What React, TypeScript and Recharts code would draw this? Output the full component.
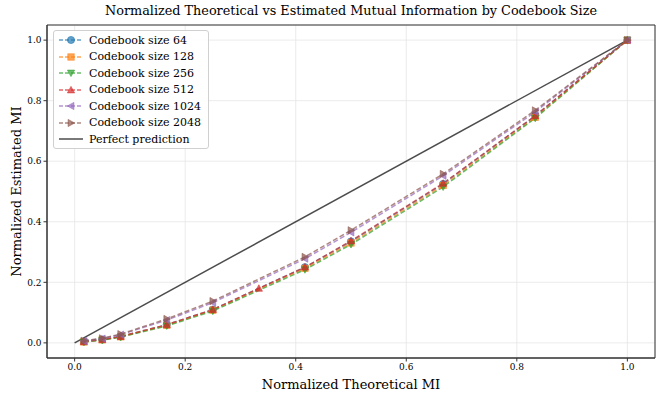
import React from 'react';
import {
  LineChart,
  Line,
  XAxis,
  YAxis,
  CartesianGrid,
  ReferenceArea
} from 'recharts';

const FONT = '"DejaVu Serif", serif';

const SIZES = ['64', '128', '256', '512', '1024', '2048'];
const COLORS = ['#1f77b4', '#ff7f0e', '#2ca02c', '#d62728', '#9467bd', '#8c564b'];
const MARKERS = ['circle', 'square', 'down', 'up', 'left', 'right'];

const X_COMMON = [0.0167, 0.05, 0.0833, 0.1667, 0.25, 0.4167, 0.5, 0.6667, 0.8333, 1.0];
const X_512 = [0.0167, 0.05, 0.0833, 0.1667, 0.25, 0.3333, 0.4167, 0.5, 0.6667, 0.8333, 1.0];

const MI_64 = [0.004, 0.011, 0.021, 0.06, 0.11, 0.25, 0.335, 0.525, 0.75, 1.0];
const MI_128 = [0.003, 0.01, 0.02, 0.058, 0.108, 0.246, 0.33, 0.52, 0.745, 1.0];
const MI_256 = [0.003, 0.009, 0.019, 0.056, 0.105, 0.242, 0.325, 0.515, 0.742, 1.0];
const MI_512 = [0.004, 0.011, 0.021, 0.06, 0.11, 0.18, 0.25, 0.337, 0.527, 0.75, 1.0];
const MI_1024 = [0.006, 0.014, 0.027, 0.075, 0.133, 0.278, 0.365, 0.552, 0.763, 1.0];
const MI_2048 = [0.007, 0.015, 0.029, 0.079, 0.138, 0.284, 0.372, 0.558, 0.768, 1.0];

const PERFECT_X = [0, 1];

const TICKS = [0, 0.2, 0.4, 0.6, 0.8, 1.0];

const toRows = (xs: number[], ys: number[]) => xs.map((x, i) => ({ x, y: ys[i] }));

const SERIES = [
  toRows(X_COMMON, MI_64),
  toRows(X_COMMON, MI_128),
  toRows(X_COMMON, MI_256),
  toRows(X_512, MI_512),
  toRows(X_COMMON, MI_1024),
  toRows(X_COMMON, MI_2048)
];

const PERFECT = PERFECT_X.map((x) => ({ x, y: x }));

const Marker = ({ kind, cx, cy, color }: any) => {
  const r = 3.6;
  const common = { fill: color, fillOpacity: 0.7, stroke: color, strokeOpacity: 0.7, strokeWidth: 0.8 };
  if (kind === 'circle') return <circle cx={cx} cy={cy} r={r} {...common} />;
  if (kind === 'square') return <rect x={cx - r + 0.4} y={cy - r + 0.4} width={2 * r - 0.8} height={2 * r - 0.8} {...common} />;
  let pts = '';
  if (kind === 'down') pts = `${cx - r},${cy - r * 0.8} ${cx + r},${cy - r * 0.8} ${cx},${cy + r}`;
  if (kind === 'up') pts = `${cx - r},${cy + r * 0.8} ${cx + r},${cy + r * 0.8} ${cx},${cy - r}`;
  if (kind === 'left') pts = `${cx + r * 0.8},${cy - r} ${cx + r * 0.8},${cy + r} ${cx - r},${cy}`;
  if (kind === 'right') pts = `${cx - r * 0.8},${cy - r} ${cx - r * 0.8},${cy + r} ${cx + r},${cy}`;
  return <polygon points={pts} {...common} />;
};

const fmt = (v: number) => v.toFixed(1);

const LegendBox = () => (
  <div
    style={{
      position: 'absolute',
      left: 53,
      top: 30,
      width: 154,
      height: 117,
      border: '1px solid #d0d0d0',
      borderRadius: 3,
      background: 'rgba(255,255,255,0.85)',
      fontFamily: FONT,
      fontSize: 11,
      color: '#000'
    }}
  >
    {SIZES.map((s, i) => (
      <div key={s} style={{ position: 'absolute', left: 4, top: 1 + i * 16.5, height: 16, display: 'flex', alignItems: 'center', whiteSpace: 'nowrap' }}>
        <svg width={26} height={14}>
          <line x1={1} y1={7} x2={25} y2={7} stroke={COLORS[i]} strokeOpacity={0.7} strokeWidth={1.5} strokeDasharray="4 2" />
          <Marker kind={MARKERS[i]} cx={13} cy={7} color={COLORS[i]} />
        </svg>
        <span style={{ marginLeft: 5 }}>Codebook size {s}</span>
      </div>
    ))}
    <div style={{ position: 'absolute', left: 4, top: 1 + 6 * 16.5, height: 16, display: 'flex', alignItems: 'center', whiteSpace: 'nowrap' }}>
      <svg width={26} height={14}>
        <line x1={1} y1={7} x2={25} y2={7} stroke="#000" strokeOpacity={0.7} strokeWidth={1.5} />
      </svg>
      <span style={{ marginLeft: 5 }}>Perfect prediction</span>
    </div>
  </div>
);

export default function App() {
  return (
    <div style={{ position: 'absolute', left: 0, top: 0, width: 664, height: 399, background: '#fff' }}>
      <div
        style={{
          position: 'absolute',
          left: 47,
          width: 608,
          top: 3,
          textAlign: 'center',
          fontFamily: FONT,
          fontSize: 12.8,
          color: '#000'
        }}
      >
        Normalized Theoretical vs Estimated Mutual Information by Codebook Size
      </div>
      <LineChart width={664} height={399} margin={{ top: 25, right: 9, bottom: 0, left: 0 }}>
        <CartesianGrid stroke="#e6e6e6" strokeWidth={0.8} />
        <XAxis
          type="number"
          dataKey="x"
          domain={[-0.05, 1.05]}
          ticks={TICKS}
          tickFormatter={fmt}
          height={41}
          allowDuplicatedCategory={false}
          tick={{ fill: '#000', fontSize: 9, fontFamily: FONT }}
          tickLine={{ stroke: '#333' }}
          tickSize={3.5}
          axisLine={{ stroke: '#333' }}
          label={{ value: 'Normalized Theoretical MI', position: 'insideBottom', offset: 10, fill: '#000', fontSize: 13, fontFamily: FONT }}
        />
        <YAxis
          type="number"
          dataKey="y"
          domain={[-0.05, 1.05]}
          ticks={TICKS}
          tickFormatter={fmt}
          width={47}
          tick={{ fill: '#000', fontSize: 9, fontFamily: FONT }}
          tickLine={{ stroke: '#333' }}
          tickSize={3.5}
          axisLine={{ stroke: '#333' }}
          label={{ value: 'Normalized Estimated MI', angle: -90, position: 'insideLeft', offset: 16, style: { textAnchor: 'middle' }, fill: '#000', fontSize: 13, fontFamily: FONT }}
        />
        <ReferenceArea x1={-0.05} x2={1.05} y1={-0.05} y2={1.05} fill="none" stroke="#333" strokeWidth={1} />
        <Line
          data={PERFECT}
          dataKey="y"
          stroke="#000"
          strokeOpacity={0.7}
          strokeWidth={1.5}
          dot={false}
          isAnimationActive={false}
        />
        {SERIES.map((rows, i) => (
          <Line
            key={SIZES[i]}
            data={rows}
            dataKey="y"
            name={`Codebook size ${SIZES[i]}`}
            stroke={COLORS[i]}
            strokeOpacity={0.7}
            strokeWidth={1.5}
            strokeDasharray="5 2.5"
            dot={(p: any) => <Marker key={`${i}-${p.index}`} kind={MARKERS[i]} cx={p.cx} cy={p.cy} color={COLORS[i]} />}
            isAnimationActive={false}
          />
        ))}
      </LineChart>
      <LegendBox />
    </div>
  );
}
